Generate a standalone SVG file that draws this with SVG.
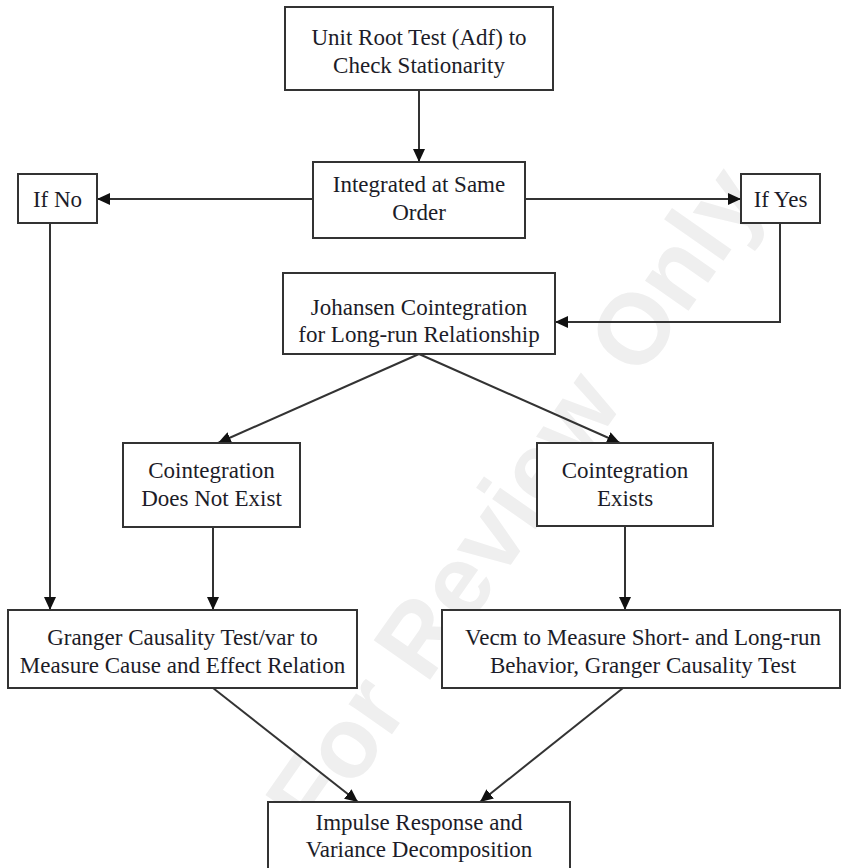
<svg xmlns="http://www.w3.org/2000/svg" width="850" height="868" viewBox="0 0 850 868">
<style>
.box{fill:#fff;stroke:#333;stroke-width:2}
.t{font-family:"Liberation Serif","Times New Roman",serif;font-size:23px;fill:#1c1c28;text-anchor:middle}
.c{fill:none;stroke:#333;stroke-width:2}
.wm{font-family:"Liberation Sans",Arial,sans-serif;font-weight:bold;font-size:100px;fill:#efefef}
</style>
<defs>
<marker id="ah" markerUnits="userSpaceOnUse" markerWidth="13" markerHeight="12" refX="13" refY="6" orient="auto">
<path d="M0,0 L13,6 L0,12 z" fill="#111"/>
</marker>
</defs>
<rect width="850" height="868" fill="#fff"/>
<text class="wm" transform="translate(318,840) rotate(-55)">For Review Only</text>
<g id="connectors">
<line class="c" x1="419" y1="90" x2="419" y2="162" marker-end="url(#ah)"/>
<line class="c" x1="313" y1="199" x2="97" y2="199" marker-end="url(#ah)"/>
<line class="c" x1="525" y1="199" x2="741" y2="199" marker-end="url(#ah)"/>
<polyline class="c" points="780,223 780,322 555,322" marker-end="url(#ah)"/>
<line class="c" x1="50" y1="223" x2="50" y2="610" marker-end="url(#ah)"/>
<line class="c" x1="419" y1="354" x2="218" y2="443" marker-end="url(#ah)"/>
<line class="c" x1="419" y1="354" x2="620" y2="443" marker-end="url(#ah)"/>
<line class="c" x1="213" y1="527" x2="213" y2="610" marker-end="url(#ah)"/>
<line class="c" x1="625" y1="526" x2="625" y2="610" marker-end="url(#ah)"/>
<line class="c" x1="213" y1="688" x2="358" y2="802" marker-end="url(#ah)"/>
<line class="c" x1="623" y1="688" x2="480" y2="802" marker-end="url(#ah)"/>
</g>
<g id="unit-root">
<rect class="box" x="285" y="7" width="268" height="83"/>
<text class="t" x="419" y="45">Unit Root Test (Adf) to</text>
<text class="t" x="419" y="73">Check Stationarity</text>
</g>
<g id="integrated">
<rect class="box" x="313" y="162" width="212" height="76"/>
<text class="t" x="419" y="192">Integrated at Same</text>
<text class="t" x="419" y="220">Order</text>
</g>
<g id="if-no">
<rect class="box" x="18" y="174" width="79" height="49"/>
<text class="t" x="57.5" y="207">If No</text>
</g>
<g id="if-yes">
<rect class="box" x="741" y="174" width="79" height="49"/>
<text class="t" x="780.5" y="207">If Yes</text>
</g>
<g id="johansen">
<rect class="box" x="283" y="273" width="272" height="81"/>
<text class="t" x="419" y="315">Johansen Cointegration</text>
<text class="t" x="419" y="342">for Long-run Relationship</text>
</g>
<g id="coint-not">
<rect class="box" x="123" y="443" width="177" height="84"/>
<text class="t" x="211.5" y="478">Cointegration</text>
<text class="t" x="211.5" y="506">Does Not Exist</text>
</g>
<g id="coint-exists">
<rect class="box" x="537" y="443" width="176" height="83"/>
<text class="t" x="625" y="478">Cointegration</text>
<text class="t" x="625" y="506">Exists</text>
</g>
<g id="granger">
<rect class="box" x="8" y="610" width="349" height="78"/>
<text class="t" x="182.5" y="645">Granger Causality Test/var to</text>
<text class="t" x="182.5" y="673">Measure Cause and Effect Relation</text>
</g>
<g id="vecm">
<rect class="box" x="442" y="610" width="398" height="78"/>
<text class="t" x="643" y="645">Vecm to Measure Short- and Long-run</text>
<text class="t" x="643" y="673">Behavior, Granger Causality Test</text>
</g>
<g id="impulse">
<rect class="box" x="268" y="802" width="302" height="80"/>
<text class="t" x="419" y="830">Impulse Response and</text>
<text class="t" x="419" y="857">Variance Decomposition</text>
</g>
</svg>
